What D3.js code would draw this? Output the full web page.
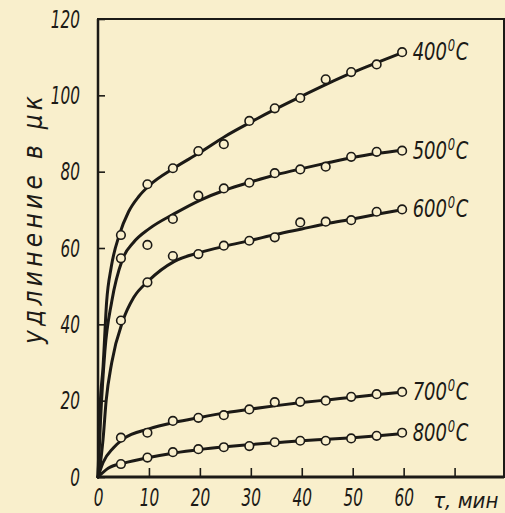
<!DOCTYPE html>
<html>
<head>
<meta charset="utf-8">
<script src="https://cdn.jsdelivr.net/npm/d3@7"></script>
<style>
  html, body { margin: 0; padding: 0; background: #f9efcc; }
  svg text { font-family: "DejaVu Sans Condensed", "DejaVu Sans", sans-serif; font-stretch: condensed; font-style: italic; fill: #1c1a16; }
</style>
</head>
<body>
<div id="chart"></div>
<script>
// measured points (t in min, elongation in mk)
var times = [5, 10, 15, 20, 25, 30, 35, 40, 45, 50, 55, 60];
var temps = ["400", "500", "600", "700", "800"];

var pts400 = [63.4, 76.7, 80.9, 85.4, 87.2, 93.3, 96.6, 99.3, 104.2, 106.1, 108.1, 111.3];
var pts500 = [57.3, 60.8, 67.6, 73.7, 75.6, 77.1, 79.6, 80.6, 81.3, 83.9, 85.2, 85.5];
var pts600 = [41.0, 51.0, 57.9, 58.4, 60.6, 61.9, 62.8, 66.7, 66.9, 67.3, 69.5, 70.1];
var pts700 = [10.3, 11.6, 14.7, 15.5, 16.2, 17.7, 19.6, 19.7, 20.0, 21.0, 21.7, 22.3];
var pts800 = [3.4, 5.1, 6.5, 7.3, 7.8, 8.1, 9.1, 9.5, 9.5, 10.1, 10.8, 11.6];

// fitted curves: [t, value]
var curve400 = [[0,0],[0.4,18],[1,29],[1.7,46],[2.6,55],[4.2,63.5],[6,69.5],[8,73.5],[10,76.3],[15,81],[20,85],[25,89.3],[30,93],[35,96.5],[40,99.8],[45,103],[50,106],[55,108.7],[60,111.3]];
var curve500 = [[0,0],[0.5,15],[1.35,33],[2.7,46],[4.8,57],[7,61.5],[10,65],[15,69],[20,72.5],[25,75.2],[30,77.3],[35,79.2],[40,80.8],[45,82.3],[50,83.7],[55,84.8],[60,85.7]];
var curve600 = [[0,0],[0.4,3],[1,10],[1.6,20],[2.7,30],[4.9,41],[7,47],[10,51.5],[15,56.5],[20,58.8],[25,60.5],[30,62],[35,63.6],[40,65],[45,66.4],[50,67.6],[55,68.9],[60,70.1]];
var curve700 = [[0,0],[1,3.8],[3,7.6],[5,10],[10,12.6],[15,14.3],[20,15.6],[25,16.8],[30,17.8],[35,18.7],[40,19.5],[45,20.2],[50,20.9],[55,21.6],[60,22.3]];
var curve800 = [[0,0],[2,2.3],[5,3.6],[10,5.1],[15,6.3],[20,7.2],[25,7.9],[30,8.5],[35,9.0],[40,9.5],[45,9.9],[50,10.3],[55,10.8],[60,11.4]];

var xTicks = [0, 10, 20, 30, 40, 50, 60];
var xMinor = [70];
var yTicks = [0, 20, 40, 60, 80, 100, 120];

var series = [
    { temp: temps[0], pts: pts400, curve: curve400 },
    { temp: temps[1], pts: pts500, curve: curve500 },
    { temp: temps[2], pts: pts600, curve: curve600 },
    { temp: temps[3], pts: pts700, curve: curve700 },
    { temp: temps[4], pts: pts800, curve: curve800 }
];

var W = 505, H = 513;
var margin = { top: 19, right: 1, bottom: 36, left: 98 },
    width = W - margin.left - margin.right,
    height = H - margin.top - margin.bottom;

var ink = "#1c1a16", paper = "#f9efcc";
var narrow = 0.68; // squeeze digits like the drafting lettering

var svg = d3.select("#chart")
    .append("svg")
    .attr("width", W)
    .attr("height", H)
    .append("g")
    .attr("transform", "translate(" + margin.left + "," + margin.top + ")");

var x = d3.scaleLinear().domain([0, 79.7]).range([0, width]);
var y = d3.scaleLinear().domain([0, 120]).range([height, 0]);

// frame
svg.append("rect")
    .attr("x", 0).attr("y", 0)
    .attr("width", width).attr("height", height)
    .attr("fill", "none")
    .attr("stroke", ink)
    .attr("stroke-width", 2);
svg.append("line")
    .attr("x1", 0).attr("x2", width)
    .attr("y1", height).attr("y2", height)
    .attr("stroke", ink).attr("stroke-width", 3);
svg.append("line")
    .attr("x1", 0).attr("x2", 0)
    .attr("y1", 0).attr("y2", height)
    .attr("stroke", ink).attr("stroke-width", 2.5);

// x axis: inner ticks, labels below
var xAxis = svg.append("g")
    .attr("transform", "translate(0," + height + ")")
    .call(d3.axisBottom(x).tickValues(xTicks.concat(xMinor)).tickSize(-9).tickPadding(11)
        .tickFormat(function(d) { return d > 60 ? "" : d; }));
xAxis.attr("font-family", null);
xAxis.select(".domain").remove();
xAxis.selectAll("line").attr("stroke", ink).attr("stroke-width", 1.6);
xAxis.selectAll("text")
    .attr("font-size", 25)
    .attr("dy", "0.72em")
    .attr("transform", "scale(" + narrow + ",1)")
    .attr("fill", ink);

// y axis: inner ticks, labels left
var yAxis = svg.append("g")
    .call(d3.axisLeft(y).tickValues(yTicks).tickSize(-7).tickPadding(18));
yAxis.attr("font-family", null);
yAxis.select(".domain").remove();
yAxis.selectAll("line").attr("stroke", ink).attr("stroke-width", 1.6);
yAxis.selectAll("text")
    .attr("font-size", 25)
    .attr("x", -18 / narrow)
    .attr("transform", "scale(" + narrow + ",1)")
    .attr("fill", ink);

// y title
svg.append("text")
    .attr("transform", "translate(" + (-64) + "," + (height / 2 - 28) + ") rotate(-90)")
    .attr("text-anchor", "middle")
    .attr("dominant-baseline", "middle")
    .attr("font-size", 26)
    .attr("textLength", 248)
    .attr("lengthAdjust", "spacing")
    .text("удлинение  в  μк");

// x title
svg.append("text")
    .attr("x", x(65.8))
    .attr("y", height + 25)
    .attr("font-size", 22)
    .attr("dominant-baseline", "middle")
    .text("τ, мин");

var line = d3.line()
    .x(function(d) { return x(d[0]); })
    .y(function(d) { return y(d[1]); })
    .curve(d3.curveMonotoneX);

series.forEach(function(s) {
    svg.append("path")
        .datum(s.curve)
        .attr("d", line)
        .attr("fill", "none")
        .attr("stroke", ink)
        .attr("stroke-width", 3)
        .attr("stroke-linecap", "round");
});

series.forEach(function(s) {
    svg.selectAll(null)
        .data(s.pts)
        .enter().append("circle")
        .attr("cx", function(d, i) { return x(times[i] === 5 ? 4.5 : times[i] - 0.3); })
        .attr("cy", function(d) { return y(d); })
        .attr("r", 4.3)
        .attr("fill", paper)
        .attr("stroke", ink)
        .attr("stroke-width", 1.6);

    // temperature label at end of each curve
    var last = s.pts[s.pts.length - 1];
    var lab = svg.append("text")
        .attr("transform", "translate(" + (x(60) + 9) + "," + (y(last) + 8) + ") scale(0.8,1)")
        .attr("font-size", 25);
    lab.append("tspan").text(s.temp);
    lab.append("tspan").attr("dy", -9).attr("dx", 1).attr("font-size", 16).text("0");
    lab.append("tspan").attr("dy", 9).attr("dx", 1).text("C");
});
</script>
</body>
</html>
